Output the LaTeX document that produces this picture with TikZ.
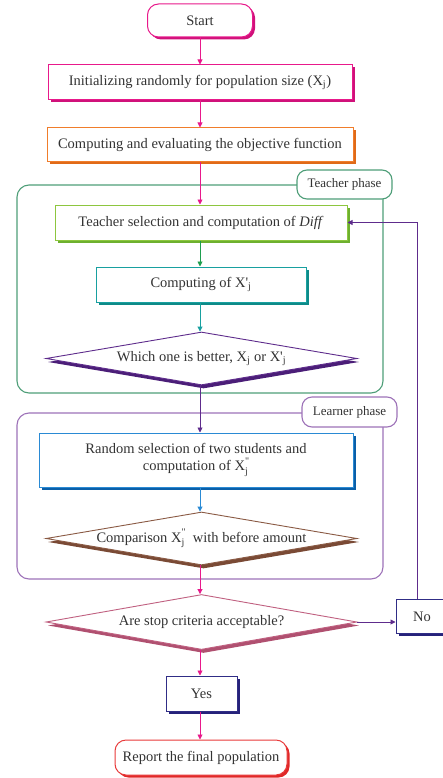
\documentclass[tikz,border=0pt]{standalone}
\usepackage{fontspec}
\setmainfont{Liberation Serif}
\usetikzlibrary{shapes.geometric,shadows,arrows.meta,calc}
\definecolor{txt}{HTML}{333333}
\definecolor{cmag}{HTML}{E8198B}
\definecolor{cmagd}{HTML}{D0117A}
\definecolor{corange}{HTML}{F07D2B}
\definecolor{corangd}{HTML}{E06A18}
\definecolor{clgreen}{HTML}{8DC63F}
\definecolor{clgreend}{HTML}{6DB02F}
\definecolor{cgreen}{HTML}{1E9E4E}
\definecolor{cteal}{HTML}{18A0A0}
\definecolor{ctealsd}{HTML}{0E8A88}
\definecolor{cpurple}{HTML}{5E2C8C}
\definecolor{cpurpled}{HTML}{4B1E78}
\definecolor{cblue}{HTML}{2A8AD4}
\definecolor{cblued}{HTML}{0A5FA8}
\definecolor{cbrown}{HTML}{8A5A44}
\definecolor{cbrownd}{HTML}{7A4A35}
\definecolor{crose}{HTML}{C06080}
\definecolor{crosed}{HTML}{B05070}
\definecolor{cnavy}{HTML}{302D86}
\definecolor{cnavyd}{HTML}{26227A}
\definecolor{cred}{HTML}{E83A3A}
\definecolor{credd}{HTML}{E02828}
\definecolor{tgreen}{HTML}{4E9E78}
\definecolor{lpurple}{HTML}{9D72B8}
\newcommand{\Xpp}{X\raisebox{-0.5ex}{\fontsize{10}{8}\selectfont\shortstack[l]{\textquotedbl\\[0pt]j}}}
\begin{document}
\begin{tikzpicture}[x=1pt,y=-1pt,
  every node/.style={font=\fontsize{14.5}{17}\selectfont, text=txt},
  box/.style 2 args={rectangle, draw=#1, line width=1pt, fill=white, inner sep=2pt, align=center,
    drop shadow={shadow xshift=2.5pt, shadow yshift=-2.5pt, fill=#2, opacity=1}},
  rbox/.style 2 args={box={#1}{#2}, rounded corners=11pt},
  dia/.style 2 args={diamond, aspect=5.87, inner sep=-3pt, draw=#1, line width=0.9pt, fill=white,
    minimum width=311pt, minimum height=53pt,
    drop shadow={shadow xshift=2pt, shadow yshift=-3.5pt, fill=#2, opacity=1}},
  grp/.style={rectangle, draw=#1, line width=1.1pt, rounded corners=12pt, inner sep=0pt},
  lbl/.style={rectangle, draw=#1, line width=1.1pt, rounded corners=10pt, fill=white, inner sep=0pt,
    font=\fontsize{13}{15}\selectfont},
  arr/.style={draw=#1, line width=0.9pt, -{Triangle[length=5pt,width=5pt]}}
]
\useasboundingbox (0,0) rectangle (443,778);
\clip (0,0) rectangle (443,778);

% groups
\node[grp=tgreen, minimum width=366pt, minimum height=208pt] (tgrp) at (200,289) {};
\node[grp=lpurple, minimum width=366pt, minimum height=166pt] (lgrp) at (200,496) {};
\node[lbl=tgreen, minimum width=95pt, minimum height=29pt] (tlab) at (344.5,184.5) {Teacher phase};
\node[lbl=lpurple, minimum width=95pt, minimum height=30pt] (llab) at (349.5,412) {Learner phase};

% nodes
\node[rbox={cmag}{cmagd}, minimum width=105pt, minimum height=33pt] (start) at (200,20.5) {Start};
\node[box={cmag}{cmagd}, minimum width=304pt, minimum height=35pt] (init) at (200,82.5) {Initializing randomly for population size (X\textsubscript{j})};
\node[box={corange}{corangd}, minimum width=306pt, minimum height=34pt] (obj) at (200,145) {Computing and evaluating the objective function};
\node[box={clgreen}{clgreend}, minimum width=292pt, minimum height=35pt] (tsel) at (201,222.5) {Teacher selection and computation of \textit{Diff}};
\node[box={cteal}{ctealsd}, minimum width=210pt, minimum height=35pt] (comp) at (201,284.5) {Computing of X\textquotesingle\textsubscript{j}};
\node[dia={cpurple}{cpurpled}] (which) at (201.5,358.5) {Which one is better, X\textsubscript{j} or X\textquotesingle\textsubscript{j}};
\node[box={cblue}{cblued}, minimum width=314pt, minimum height=54pt] (rand) at (196,460) {Random selection of two students and\\computation of \Xpp};
\node[dia={cbrown}{cbrownd}] (compar) at (201.5,538.5) {Comparison \Xpp\ \ with before amount};
\node[dia={crose}{crosed}, minimum height=55pt] (stop) at (201.5,622) {Are stop criteria acceptable?};
\node[box={cnavy}{cnavyd}, minimum width=52pt, minimum height=34pt] (no) at (422,616.5) {No};
\node[box={cnavy}{cnavyd}, minimum width=71pt, minimum height=35pt] (yes) at (201.5,693.5) {Yes};
\node[rbox={cred}{credd}, minimum width=172pt, minimum height=35pt] (report) at (201,757.5) {Report the final population};

% connectors
\draw[arr=cmag] (start.south -| 200,0) -- (init.north -| 200,0);
\draw[arr=cmag] (init.south -| 200,0) -- (obj.north -| 200,0);
\draw[arr=cmag] (obj.south -| 200,0) -- (tsel.north -| 200,0);
\draw[arr=cgreen] (tsel.south -| 200,0) -- (comp.north -| 200,0);
\draw[arr=cteal] (comp.south -| 200,0) -- (which.north -| 200,0);
\draw[arr=cpurple] (which.south -| 200,0) -- (rand.north -| 200,0);
\draw[arr=cblue] (rand.south -| 200,0) -- (compar.north -| 200,0);
\draw[arr=cmag] (compar.south -| 200,0) -- (stop.north -| 200,0);
\draw[arr=cmag] (stop.south -| 200,0) -- (yes.north -| 200,0);
\draw[arr=cmag] (yes.south -| 200,0) -- (report.north -| 200,0);
\draw[arr=cpurple] (stop.east) -- (stop.east -| no.west);
\draw[arr=cpurple] ([xshift=-5pt]no.north) |- (tsel.east);
\end{tikzpicture}
\end{document}
